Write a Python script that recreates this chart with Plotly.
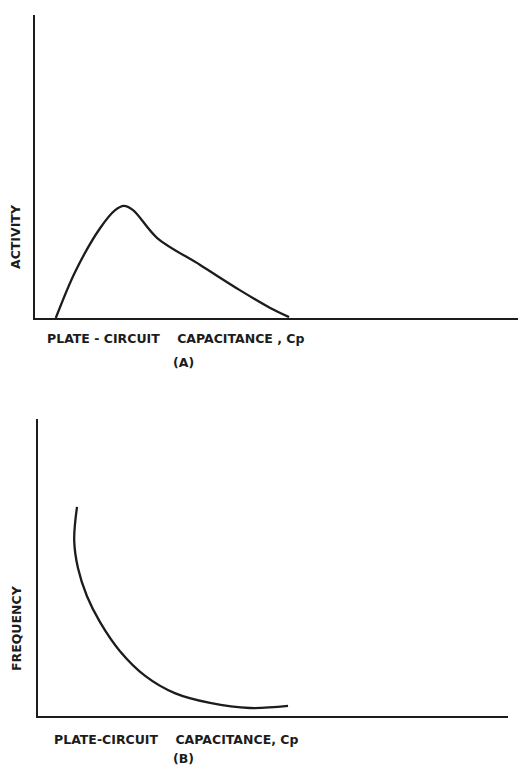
import plotly.graph_objects as go

# Panel (A): activity vs plate-circuit capacitance (arbitrary units)
cap_a = [0.43, 0.83, 1.35, 1.66, 1.84, 2.03, 2.53, 3.42, 4.24, 4.87, 5.26]
activity = [0.0, 1.52, 2.97, 3.56, 3.70, 3.56, 2.64, 1.75, 0.92, 0.33, 0.03]

# Panel (B): frequency vs plate-circuit capacitance (arbitrary units)
cap_b = [0.83, 0.77, 0.85, 1.04, 1.32, 1.74, 2.28, 2.91, 3.66, 4.51, 5.32]
frequency = [7.04, 5.93, 4.98, 4.04, 3.16, 2.19, 1.35, 0.77, 0.44, 0.27, 0.34]

x_title_a = "PLATE - CIRCUIT\u00a0\u00a0\u00a0\u00a0CAPACITANCE , Cp"
x_title_b = "PLATE-CIRCUIT\u00a0\u00a0\u00a0\u00a0CAPACITANCE, Cp"
y_title_a = "ACTIVITY"
y_title_b = "FREQUENCY"
caption_a = "(A)"
caption_b = "(B)"

W, H = 518, 768
INK = "#1c1c1c"
FONT = dict(family="DejaVu Sans", size=12.5, color=INK, weight="bold")


def px(x):
    return x / W


def py(y):
    return 1 - y / H


fig = go.Figure()
fig.add_trace(go.Scatter(x=cap_a, y=activity, mode="lines",
                         line=dict(color=INK, width=2.3, shape="spline", smoothing=0.9),
                         xaxis="x", yaxis="y", hoverinfo="skip"))
fig.add_trace(go.Scatter(x=cap_b, y=frequency, mode="lines",
                         line=dict(color=INK, width=2.3, shape="spline", smoothing=1.0),
                         xaxis="x2", yaxis="y2", hoverinfo="skip"))

axis_common = dict(showline=True, linecolor=INK, linewidth=2.2, showgrid=False,
                   zeroline=False, showticklabels=False, ticks="", fixedrange=True)

fig.update_layout(
    width=W, height=H,
    margin=dict(l=0, r=0, t=0, b=0),
    paper_bgcolor="white", plot_bgcolor="white",
    showlegend=False,
    xaxis=dict(domain=[px(35), 1.0], range=[0, 10], anchor="y", **axis_common),
    yaxis=dict(domain=[py(318), py(15)], range=[0, 10], anchor="x", **axis_common),
    xaxis2=dict(domain=[px(38), px(508)], range=[0, 10], anchor="y2", **axis_common),
    yaxis2=dict(domain=[py(716), py(419)], range=[0, 10], anchor="x2", **axis_common),
)

annotations = [
    dict(text=x_title_a, x=px(45), y=py(338), xanchor="left", yanchor="middle"),
    dict(text=caption_a, x=px(183), y=py(362), xanchor="center", yanchor="middle"),
    dict(text=y_title_a, x=px(15), y=py(237), xanchor="center", yanchor="middle", textangle=-90),
    dict(text=x_title_b, x=px(52), y=py(739), xanchor="left", yanchor="middle"),
    dict(text=caption_b, x=px(183), y=py(758), xanchor="center", yanchor="middle"),
    dict(text=y_title_b, x=px(16), y=py(628), xanchor="center", yanchor="middle", textangle=-90),
]
for a in annotations:
    fig.add_annotation(xref="paper", yref="paper", showarrow=False, font=FONT, **a)

fig.write_html("out.html")
